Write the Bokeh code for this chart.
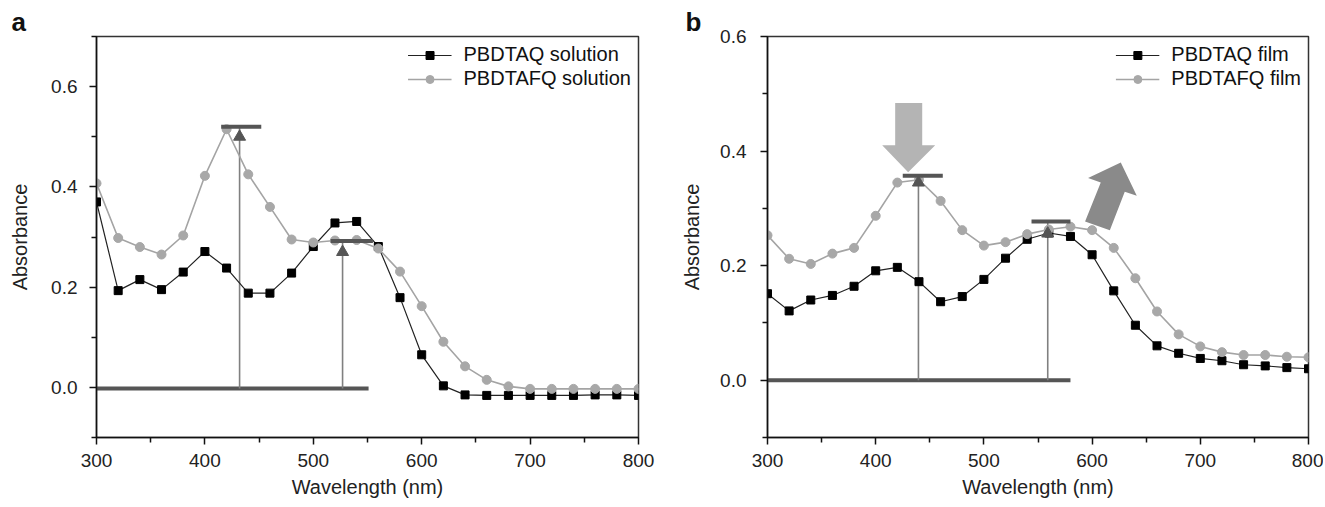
from bokeh.plotting import figure
from bokeh.layouts import row
from bokeh.models import FixedTicker, PrintfTickFormatter, Legend, LegendItem, Range1d
from bokeh.embed import file_html
from bokeh.resources import INLINE

# ---------------- data ----------------
wavelength = [300, 320, 340, 360, 380, 400, 420, 440, 460, 480, 500, 520, 540,
              560, 580, 600, 620, 640, 660, 680, 700, 720, 740, 760, 780, 800]

aq_solution = [0.37, 0.193, 0.215, 0.195, 0.23, 0.271, 0.238, 0.188, 0.188, 0.228,
               0.281, 0.328, 0.331, 0.281, 0.179, 0.065, 0.003, -0.015, -0.016,
               -0.016, -0.016, -0.016, -0.016, -0.015, -0.015, -0.016]
afq_solution = [0.407, 0.298, 0.28, 0.265, 0.303, 0.422, 0.515, 0.425, 0.36, 0.295,
                0.289, 0.293, 0.294, 0.277, 0.231, 0.162, 0.091, 0.042, 0.015,
                0.002, -0.003, -0.003, -0.003, -0.003, -0.003, -0.003]
aq_film = [0.151, 0.121, 0.140, 0.148, 0.164, 0.191, 0.197, 0.172, 0.137, 0.146,
           0.176, 0.213, 0.246, 0.257, 0.251, 0.219, 0.156, 0.096, 0.06, 0.047,
           0.038, 0.034, 0.027, 0.025, 0.022, 0.020]
afq_film = [0.253, 0.212, 0.203, 0.221, 0.231, 0.287, 0.345, 0.35, 0.313, 0.262,
            0.235, 0.241, 0.255, 0.263, 0.268, 0.262, 0.231, 0.178, 0.12, 0.08,
            0.059, 0.049, 0.044, 0.044, 0.041, 0.040]

labels_a = ["PBDTAQ solution", "PBDTAFQ solution"]
labels_b = ["PBDTAQ film", "PBDTAFQ film"]

# peak markers: (wavelength, bar level, triangle level, bar start, bar end)
peaks_a = [(432, 0.52, 0.50, 415, 452), (527, 0.292, 0.27, 516, 555)]
peaks_b = [(439.5, 0.357, 0.345, 425, 462), (559, 0.277, 0.256, 544, 580)]
baseline_a = (300, 551, -0.002)
baseline_b = (300, 580, 0.0)

# big arrows in panel b (data coordinates)
down_arrow_x = [418, 443, 443, 455, 430, 406, 418]
down_arrow_y = [0.484, 0.484, 0.41, 0.41, 0.363, 0.41, 0.41]
up_arrow_x = [593.5, 608.0, 596.3, 626.5, 641.3, 630.2, 616.4]
up_arrow_y = [0.277, 0.345, 0.353, 0.380, 0.322, 0.329, 0.262]

FONT = "Liberation Sans"


def make_panel(title, ylim, y_minor, black, grey, labels, peaks, baseline,
               width, border_left, border_right, title_offset, ylab_standoff,
               ytick_standoff):
    p = figure(width=width, height=505, output_backend="svg", toolbar_location=None,
               x_range=Range1d(300, 800), y_range=Range1d(*ylim),
               min_border_left=border_left, min_border_right=border_right,
               min_border_top=36, min_border_bottom=68)
    p.xgrid.visible = False
    p.ygrid.visible = False
    p.outline_line_color = "#333333"
    p.outline_line_width = 1.5
    p.background_fill_color = "white"
    p.border_fill_color = "white"

    p.title.text = title
    p.title.text_font = FONT
    p.title.text_font_size = "26px"
    p.title.text_font_style = "bold"
    p.title.text_color = "#111111"
    p.title.align = "left"
    p.title.offset = title_offset
    p.title.standoff = 0

    p.xaxis.ticker = FixedTicker(ticks=[300, 400, 500, 600, 700, 800],
                                 minor_ticks=[350, 450, 550, 650, 750])
    p.yaxis.ticker = FixedTicker(ticks=[0.0, 0.2, 0.4, 0.6], minor_ticks=y_minor)
    p.yaxis.formatter = PrintfTickFormatter(format="%.1f")
    p.xaxis.axis_label = "Wavelength (nm)"
    p.yaxis.axis_label = "Absorbance"
    for ax in (p.xaxis, p.yaxis):
        ax.axis_line_width = 1.5
        ax.axis_line_color = "#111111"
        ax.major_tick_line_color = "#111111"
        ax.minor_tick_line_color = "#111111"
        ax.major_tick_line_width = 1.5
        ax.minor_tick_line_width = 1.5
        ax.major_tick_out = 7
        ax.major_tick_in = 0
        ax.minor_tick_out = 5
        ax.minor_tick_in = 0
        ax.major_label_text_font = FONT
        ax.major_label_text_font_size = "19px"
        ax.major_label_text_color = "#222222"
        ax.axis_label_text_font = FONT
        ax.axis_label_text_font_size = "20px"
        ax.axis_label_text_font_style = "normal"
        ax.axis_label_text_color = "#222222"
    p.xaxis.major_label_standoff = 9
    p.xaxis.axis_label_standoff = 6
    p.yaxis.major_label_standoff = ytick_standoff
    p.yaxis.axis_label_standoff = ylab_standoff

    # baseline and peak markers (behind curves)
    bx0, bx1, by = baseline
    p.line([bx0, bx1], [by, by], line_color="#555555", line_width=4)
    for (xp, ybar, ytri, xb0, xb1) in peaks:
        p.line([xp, xp], [by, ybar], line_color="#808080", line_width=1.6)

    # curves
    l1 = p.line(wavelength, black, line_color="#222222", line_width=1.2)
    s1 = p.scatter(wavelength, black, marker="square", size=8,
                   fill_color="black", line_color="black")
    l2 = p.line(wavelength, grey, line_color="#a4a4a4", line_width=1.6)
    s2 = p.scatter(wavelength, grey, marker="circle", size=9,
                   fill_color="#a8a8a8", line_color="#a8a8a8")

    for (xp, ybar, ytri, xb0, xb1) in peaks:
        p.line([xb0, xb1], [ybar, ybar], line_color="#555555", line_width=4)
        p.scatter([xp], [ytri], marker="triangle", size=12,
                  fill_color="#555555", line_color="#555555")

    legend = Legend(items=[LegendItem(label=labels[0], renderers=[l1, s1]),
                           LegendItem(label=labels[1], renderers=[l2, s2])],
                    location="top_right", border_line_color=None,
                    background_fill_alpha=0, label_text_font=FONT,
                    label_text_font_size="20px", label_text_color="#111111",
                    glyph_width=44, glyph_height=20, label_standoff=12,
                    spacing=1, padding=3, margin=7)
    p.add_layout(legend)
    return p


pa = make_panel("a", (-0.1, 0.7), [-0.1, 0.1, 0.3, 0.5, 0.7], aq_solution, afq_solution,
                labels_a, peaks_a, baseline_a, 660, 96, 22, -85, 17, 12)
pb = make_panel("b", (-0.1, 0.6), [-0.1, 0.1, 0.3, 0.5], aq_film, afq_film,
                labels_b, peaks_b, baseline_b, 663, 107, 15, -82, 14, 14)
pb.patch(down_arrow_x, down_arrow_y, fill_color="#b4b4b4", line_color=None)
pb.patch(up_arrow_x, up_arrow_y, fill_color="#8a8a8a", line_color=None)

layout = row(pa, pb, spacing=0)
open("out.html", "w").write(file_html(layout, INLINE))
